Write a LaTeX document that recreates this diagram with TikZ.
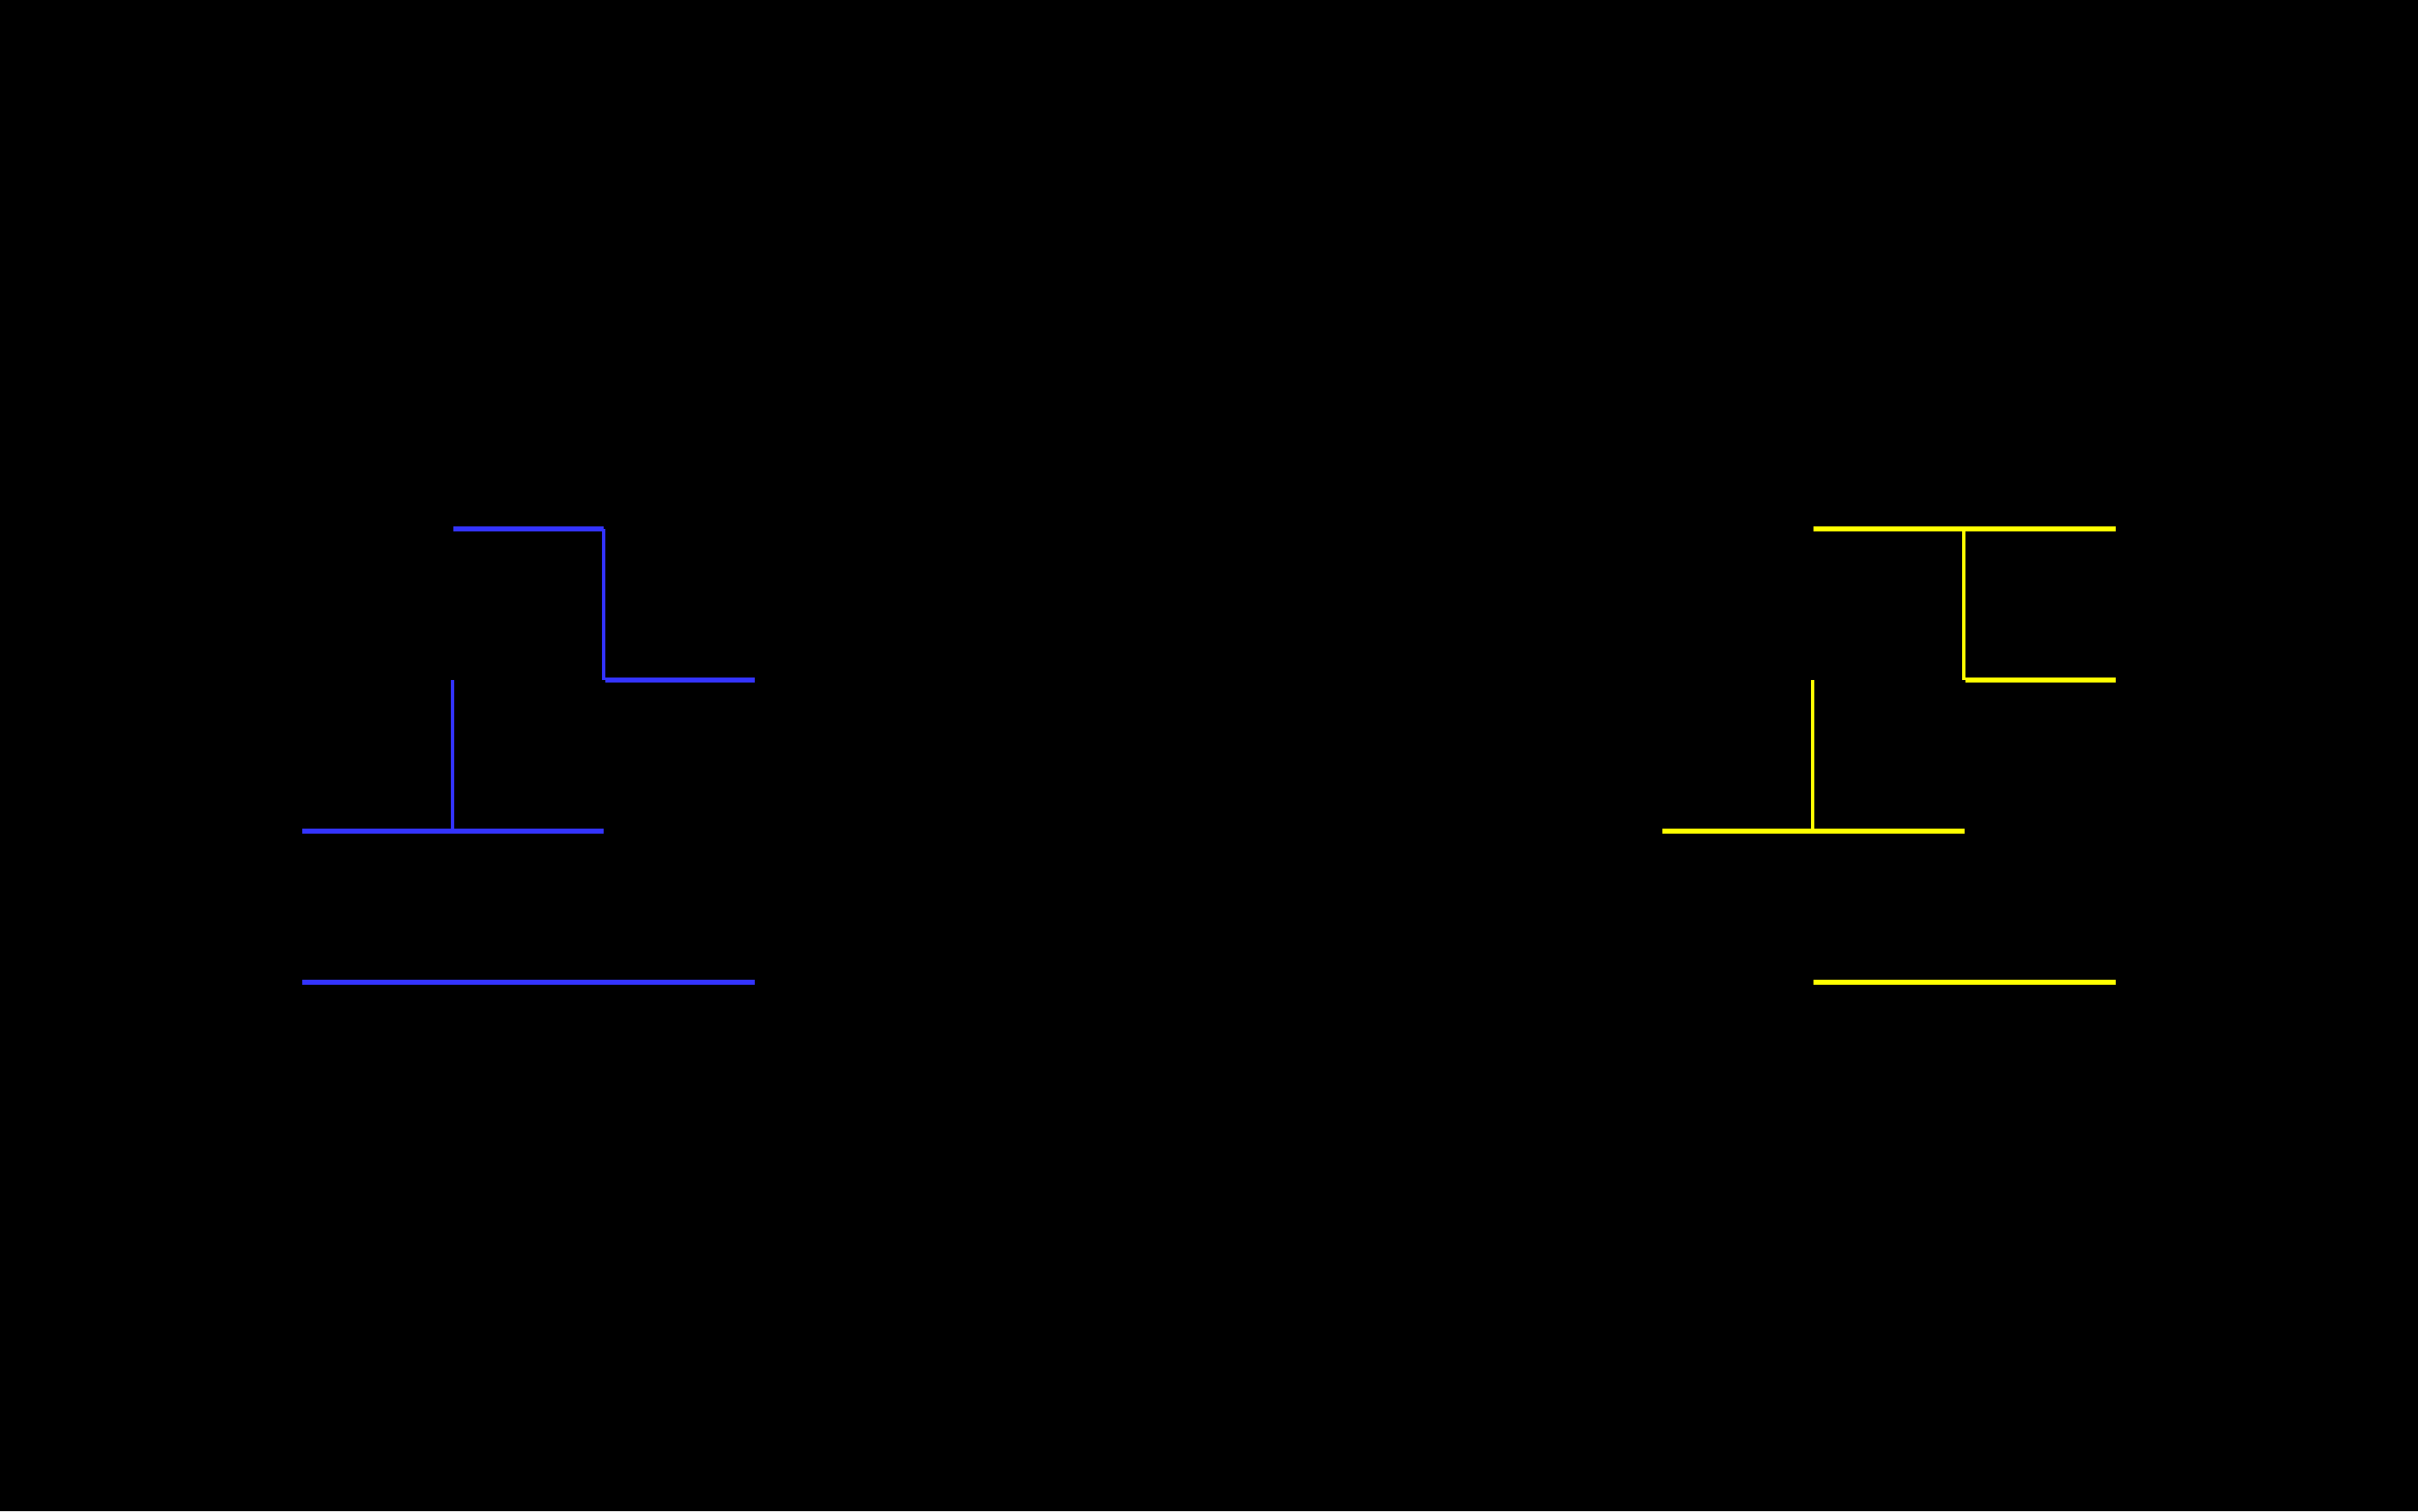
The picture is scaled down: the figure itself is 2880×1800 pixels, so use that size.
\documentclass[tikz,border=0pt]{standalone}
\definecolor{bl}{RGB}{51,51,255}
\definecolor{yl}{RGB}{255,255,0}
\tikzset{
  hseg/.style={line width=5.4pt},
  vseg/.style={line width=4.6pt},
  bluel/.style={draw=bl},
  yell/.style={draw=yl}
}
\begin{document}
\begin{tikzpicture}[x=1pt,y=-1pt]
\fill[black] (0,0) rectangle (2880,1800);
\useasboundingbox (0,0) rectangle (2880,1800);
% blue
\coordinate (b1) at (540,630);
\coordinate (b2) at (719,630);
\coordinate (b3) at (719,810);
\coordinate (b4) at (721,810);
\coordinate (b5) at (899,810);
\coordinate (b6) at (539,810);
\coordinate (b7) at (539,990);
\coordinate (b8) at (360,990);
\coordinate (b9) at (719,990);
\coordinate (b10) at (360,1170);
\coordinate (b11) at (899,1170);
\draw[bluel,hseg] (b1) -- (b2);
\draw[bluel,vseg] (b2) -- (b3);
\draw[bluel,hseg] (b4) -- (b5);
\draw[bluel,vseg] (b6) -- (b7);
\draw[bluel,hseg] (b8) -- (b9);
\draw[bluel,hseg] (b10) -- (b11);
% yellow
\coordinate (y1) at (2160,630);
\coordinate (y2) at (2520,630);
\coordinate (y3) at (2339,630);
\coordinate (y4) at (2339,810);
\coordinate (y5) at (2341,810);
\coordinate (y6) at (2520,810);
\coordinate (y7) at (2159,810);
\coordinate (y8) at (2159,990);
\coordinate (y9) at (1980,990);
\coordinate (y10) at (2340,990);
\coordinate (y11) at (2160,1170);
\coordinate (y12) at (2520,1170);
\draw[yell,hseg] (y1) -- (y2);
\draw[yell,vseg] (y3) -- (y4);
\draw[yell,hseg] (y5) -- (y6);
\draw[yell,vseg] (y7) -- (y8);
\draw[yell,hseg] (y9) -- (y10);
\draw[yell,hseg] (y11) -- (y12);
\end{tikzpicture}
\end{document}
